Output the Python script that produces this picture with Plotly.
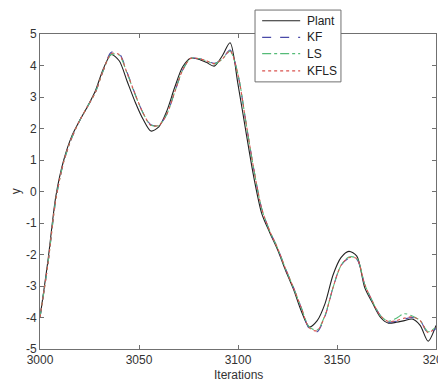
import plotly.graph_objects as go

iterations = [3000, 3004, 3008, 3012, 3016, 3020, 3024, 3028, 3032, 3036,
              3040, 3044, 3048, 3052, 3056, 3060, 3064, 3068, 3072, 3076,
              3080, 3084, 3088, 3092, 3096, 3100, 3104, 3108, 3112, 3116,
              3120, 3124, 3128, 3132, 3136, 3140, 3144, 3148, 3152, 3156,
              3160, 3164, 3168, 3172, 3176, 3180, 3184, 3188, 3192, 3196, 3200]

plant = [-4.0, -2.2, -0.15, 1.0, 1.75, 2.25, 2.7, 3.2, 3.9, 4.35,
         4.15, 3.5, 2.85, 2.3, 1.92, 2.05, 2.55, 3.3, 3.95, 4.23,
         4.2, 4.1, 3.98, 4.3, 4.72, 3.4, 1.9, 0.45, -0.7, -1.3,
         -1.85, -2.5, -3.1, -3.8, -4.3, -4.1, -3.55, -2.65, -2.1, -1.9,
         -2.05, -3.05, -3.55, -4.0, -4.18, -4.15, -4.1, -4.05, -4.25, -4.75, -4.25]

kf = [-4.0, -2.3, -0.25, 0.95, 1.7, 2.25, 2.7, 3.15, 3.85, 4.42,
      4.38, 3.78, 3.1, 2.5, 2.12, 2.1, 2.45, 3.15, 3.85, 4.22,
      4.22, 4.15, 4.07, 4.2, 4.49, 3.7, 2.2, 0.7, -0.55, -1.25,
      -1.8, -2.45, -3.05, -3.7, -4.35, -4.45, -3.95, -3.05, -2.35, -2.12,
      -2.15, -2.95, -3.5, -3.95, -4.15, -4.12, -4.05, -4.0, -4.1, -4.5, -4.35]

ls = [-4.0, -2.3, -0.25, 0.95, 1.7, 2.25, 2.7, 3.15, 3.85, 4.35,
      4.33, 3.75, 3.08, 2.5, 2.1, 2.1, 2.45, 3.15, 3.85, 4.22,
      4.22, 4.15, 4.05, 4.2, 4.45, 3.72, 2.2, 0.7, -0.55, -1.25,
      -1.8, -2.45, -3.05, -3.7, -4.3, -4.4, -3.92, -3.05, -2.35, -2.08,
      -2.12, -2.95, -3.5, -3.95, -4.12, -4.02, -3.88, -3.95, -4.1, -4.45, -4.3]

kfls = [-4.0, -2.3, -0.25, 0.95, 1.7, 2.25, 2.7, 3.15, 3.85, 4.38,
        4.35, 3.76, 3.1, 2.5, 2.1, 2.1, 2.45, 3.15, 3.85, 4.22,
        4.22, 4.15, 4.06, 4.2, 4.47, 3.7, 2.2, 0.7, -0.55, -1.25,
        -1.8, -2.45, -3.05, -3.7, -4.33, -4.42, -3.93, -3.05, -2.35, -2.1,
        -2.13, -2.95, -3.5, -3.95, -4.13, -4.1, -4.02, -3.98, -4.1, -4.48, -4.32]

series_names = ["Plant", "KF", "LS", "KFLS"]
x_ticks = [3000, 3050, 3100, 3150, 3200]
y_ticks = [-5, -4, -3, -2, -1, 0, 1, 2, 3, 4, 5]

styles = {
    "Plant": dict(color="#222222", dash="solid"),
    "KF": dict(color="#4a4aa8", dash="dash"),
    "LS": dict(color="#55bb77", dash="dashdot"),
    "KFLS": dict(color="#d9534f", dash="dot"),
}

FONT = "Liberation Sans, Arial, sans-serif"

fig = go.Figure()
for name, ys in zip(series_names, [plant, kf, ls, kfls]):
    st = styles[name]
    fig.add_trace(go.Scatter(
        x=iterations, y=ys, mode="lines", name=name, showlegend=False,
        line=dict(color=st["color"], dash=st["dash"], width=1.1, shape="spline", smoothing=0.8),
    ))

axis_common = dict(
    showline=True, linecolor="#707070", linewidth=1, mirror="allticks",
    ticks="inside", ticklen=4, tickcolor="#707070", showgrid=False, zeroline=False,
    automargin=False, ticklabeloverflow="allow",
    tickfont=dict(family=FONT, size=12, color="#333333"),
)

# legend drawn as box + samples + labels (paper coordinates of the plot area)
legend_y = [1.042, 0.989, 0.938, 0.883]
shapes = [dict(type="rect", xref="paper", yref="paper", x0=0.543, x1=0.760, y0=0.848, y1=1.076,
               line=dict(color="#707070", width=1), fillcolor="white", layer="above")]
annotations = []
for name, ly in zip(series_names, legend_y):
    st = styles[name]
    shapes.append(dict(type="line", xref="paper", yref="paper", x0=0.561, x1=0.657, y0=ly, y1=ly,
                       line=dict(color=st["color"], dash=st["dash"], width=1.2), layer="above"))
    annotations.append(dict(text=name, xref="paper", yref="paper", x=0.669, y=ly,
                            xanchor="left", yanchor="middle", showarrow=False,
                            font=dict(family=FONT, size=12, color="#222222")))

annotations.append(dict(text="Iterations", xref="paper", yref="paper", x=0.5, y=-0.083,
                        xanchor="center", yanchor="middle", showarrow=False,
                        font=dict(family=FONT, size=12, color="#333333")))
annotations.append(dict(text="y", xref="paper", yref="paper", x=-0.061, y=0.5, textangle=-90,
                        xanchor="center", yanchor="middle", showarrow=False,
                        font=dict(family=FONT, size=12, color="#333333")))

fig.update_layout(
    width=438, height=373,
    margin=dict(l=32, r=10, t=26, b=32),
    paper_bgcolor="white", plot_bgcolor="white",
    font=dict(family=FONT, size=12, color="#333333"),
    xaxis=dict(range=[3000, 3200], tickvals=x_ticks, ticktext=[str(v) for v in x_ticks],
               **axis_common),
    yaxis=dict(range=[-5, 5], tickvals=y_ticks, ticktext=[str(v) for v in y_ticks],
               **axis_common),
    shapes=shapes,
    annotations=annotations,
    showlegend=False,
)

fig.write_html("out.html")
